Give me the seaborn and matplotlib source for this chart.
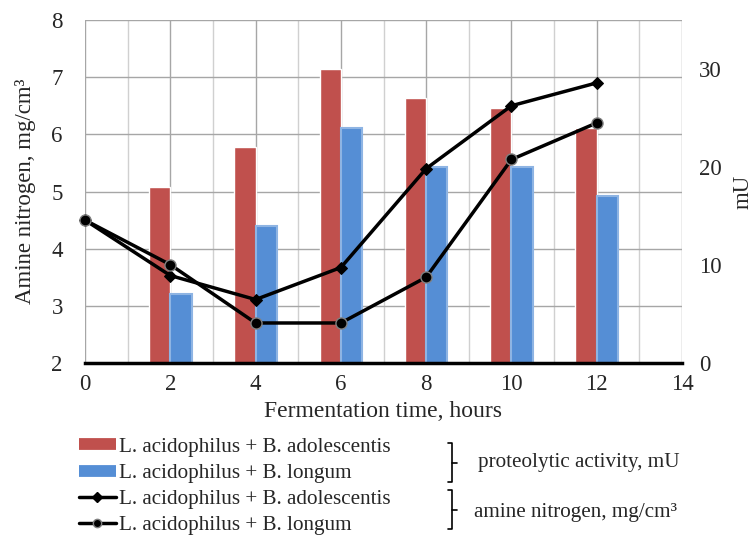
import numpy as np
import pandas as pd
import seaborn as sns
import matplotlib.pyplot as plt
from matplotlib.lines import Line2D

# proteolytic activity, mU (bars, right axis)
hours = [2, 4, 6, 8, 10, 12]
activity_adolescentis = [18, 22, 30, 27, 26, 24]
activity_longum = [7, 14, 24, 20, 20, 17]

# amine nitrogen, mg/cm3 (lines, left axis)
line_hours = [0, 2, 4, 6, 8, 10, 12]
nitrogen_adolescentis = [4.5, 3.53, 3.11, 3.67, 5.4, 6.5, 6.9]
nitrogen_longum = [4.5, 3.72, 2.7, 2.7, 3.5, 5.56, 6.2]

strains = ['L. acidophilus + B. adolescentis', 'L. acidophilus + B. longum']
bar_colors = ['#C0504D', '#558ED5']

sns.set_style('white')
plt.rcParams['font.family'] = ['Liberation Serif', 'DejaVu Serif']

bars = pd.DataFrame({
    'hour': hours * 2,
    'activity': activity_adolescentis + activity_longum,
    'strain': [strains[0]] * len(hours) + [strains[1]] * len(hours),
})

fig = plt.figure(figsize=(7.55, 5.35), dpi=100)
ax = fig.add_axes([85 / 755, 1 - 363 / 535, 597 / 755, 343 / 535])
ax2 = ax.twinx()

sns.barplot(data=bars, x='hour', y='activity', hue='strain',
            palette=dict(zip(strains, bar_colors)), native_scale=True,
            width=0.5, saturation=1, legend=False, ax=ax, zorder=2)
for patch in ax.containers[1]:
    patch.set_edgecolor('#8EB4E3')
    patch.set_linewidth(1.5)

# bars axis: mU on the right
ax.set_xlim(0, 14)
ax.set_ylim(0, 35)
ax.set_xticks(range(0, 15, 2))
ax.set_xticks(range(1, 15, 2), minor=True)
ax.set_yticks([0, 10, 20, 30])
ax.set_yticks(np.linspace(0, 35, 7), minor=True)
ax.yaxis.tick_right()
ax.yaxis.set_label_position('right')
ax.set_axisbelow(True)
ax.xaxis.grid(True, which='major', color='#A6A6A6', lw=1)
ax.xaxis.grid(True, which='minor', color='#D0D0D0', lw=1)
ax.yaxis.grid(True, which='minor', color='#A6A6A6', lw=1)
ax.yaxis.grid(False, which='major')
ax.tick_params(which='both', length=0, labelsize=16.5)
ax.tick_params(axis='y', pad=12)
ax.tick_params(axis='x', pad=8)
ax.set_xlabel('Fermentation time, hours', fontsize=17, labelpad=4)
ax.set_ylabel('mU', fontsize=16.5)
ax.yaxis.set_label_coords(1.085, 0.5)
for side in ['top', 'left', 'right']:
    ax.spines[side].set_visible(False)
ax.spines['bottom'].set_color('black')
ax.spines['bottom'].set_linewidth(2.5)
ax.spines['bottom'].set_zorder(3)

# lines axis: amine nitrogen on the left
ax2.yaxis.tick_left()
ax2.yaxis.set_label_position('left')
sns.lineplot(x=line_hours, y=nitrogen_adolescentis, ax=ax2, color='black', lw=2.5,
             marker='D', markersize=6, markeredgecolor='black', clip_on=False)
sns.lineplot(x=line_hours, y=nitrogen_longum, ax=ax2, color='black', lw=2.5,
             marker='o', markersize=8, markeredgecolor='#808080', markeredgewidth=1,
             clip_on=False)
ax2.set_ylim(2, 8)
ax2.set_yticks(range(2, 9))
ax2.tick_params(length=0, labelsize=16.5, pad=16)
ax2.set_ylabel('Amine nitrogen, mg/cm³', fontsize=16.5)
ax2.yaxis.set_label_coords(-0.082, 0.5)
for side in ax2.spines:
    ax2.spines[side].set_visible(False)

handles = [
    Line2D([], [], color=bar_colors[0], lw=8.5, solid_capstyle='butt'),
    Line2D([], [], color=bar_colors[1], lw=8.5, solid_capstyle='butt'),
    Line2D([], [], color='black', lw=2.5, marker='D', markersize=5),
    Line2D([], [], color='black', lw=2.5, marker='o', markersize=6,
           markeredgecolor='#808080'),
]
fig.legend(handles, strains + strains, loc='upper left',
           bbox_to_anchor=(79 / 755, 1 - 437 / 535), frameon=False, fontsize=15.2,
           handlelength=1.75, handletextpad=0.15, labelspacing=0.3,
           borderaxespad=0, borderpad=0)


def bracket(top, bottom, x=452):
    mid = (top + bottom) / 2
    pts = [((x - 4, x, x, x - 4), (top, top, bottom, bottom)),
           ((x, x + 5), (mid, mid))]
    for xs, ys in pts:
        fig.add_artist(Line2D([v / 755 for v in xs], [1 - v / 535 for v in ys],
                              color='black', lw=1.2, transform=fig.transFigure))


bracket(443, 482)
bracket(490, 529)
fig.text(478 / 755, 1 - 462 / 535, 'proteolytic activity, mU', fontsize=15.2, va='center')
fig.text(474 / 755, 1 - 512 / 535, 'amine nitrogen, mg/cm³', fontsize=15.2, va='center')

fig.savefig('out.png', dpi=100)
